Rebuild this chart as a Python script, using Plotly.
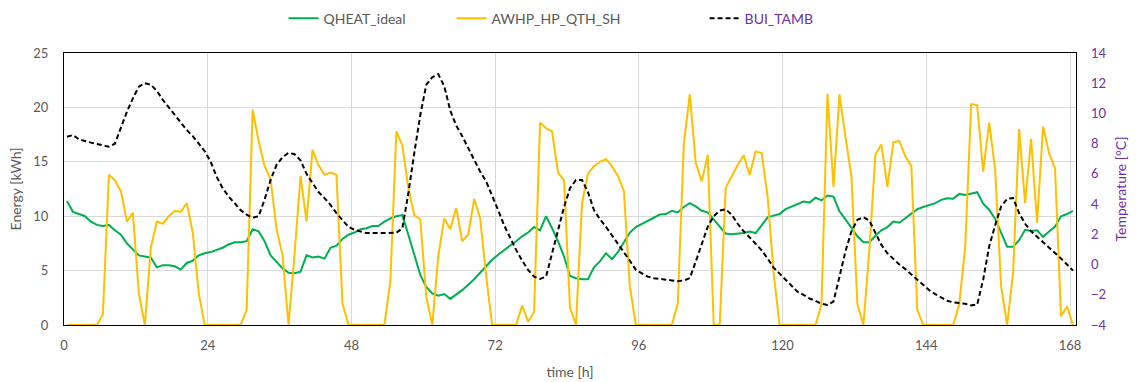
import numpy as np
import plotly.graph_objects as go

# hourly samples, plotted at mid-hour
hours = np.arange(169) + 0.5

qheat_ideal = [
    11.4, 10.4, 10.2, 10.0, 9.5, 9.2, 9.1, 9.2, 8.7, 8.3,
    7.5, 6.9, 6.4, 6.3, 6.2, 5.3, 5.5, 5.5, 5.4, 5.1,
    5.7, 5.9, 6.4, 6.6, 6.7, 6.9, 7.1, 7.4, 7.6, 7.6,
    7.7, 8.8, 8.6, 7.7, 6.4, 5.8, 5.2, 4.8, 4.75, 4.9,
    6.4, 6.2, 6.3, 6.1, 7.1, 7.3, 7.9, 8.3, 8.5, 8.8,
    8.9, 9.1, 9.1, 9.5, 9.8, 10.0, 10.1, 8.3, 6.4, 4.6,
    3.5, 2.9, 2.7, 2.85, 2.4, 2.8, 3.2, 3.7, 4.2, 4.8,
    5.45, 6.0, 6.45, 6.9, 7.3, 7.7, 8.15, 8.5, 9.0, 8.7,
    10.0, 8.9, 7.7, 6.3, 4.5, 4.3, 4.2, 4.2, 5.3, 5.85,
    6.6, 6.05, 6.7, 7.6, 8.5, 9.0, 9.3, 9.6, 9.9, 10.15,
    10.2, 10.5, 10.35, 10.85, 11.2, 10.9, 10.5, 10.35, 9.7, 9.0,
    8.4, 8.35, 8.4, 8.45, 8.6, 8.45, 9.15, 9.9, 10.05, 10.2,
    10.65, 10.9, 11.1, 11.35, 11.25, 11.7, 11.45, 11.9, 11.8, 10.45,
    9.7, 8.9, 8.15, 7.6, 7.6, 8.2, 8.7, 9.0, 9.5, 9.4,
    9.8, 10.2, 10.65, 10.85, 11.0, 11.2, 11.5, 11.65, 11.6, 12.05,
    11.95, 12.05, 12.2, 11.15, 10.6, 9.75, 8.45, 7.2, 7.2, 7.8,
    8.75, 8.65, 8.7, 8.1, 8.6, 9.05, 10.0, 10.2, 10.5,
]

awhp_hp_qth_sh = [
    0, 0, 0, 0, 0, 0, 1.0, 13.8, 13.3, 12.3,
    9.5, 10.3, 2.9, 0, 7.1, 9.5, 9.3, 10.0, 10.5, 10.4,
    11.2, 8.5, 2.9, 0, 0, 0, 0, 0, 0, 0,
    1.4, 19.8, 16.9, 14.6, 13.4, 8.8, 6.4, 0, 6.5, 13.7,
    9.5, 16.1, 14.7, 13.8, 14.0, 13.8, 2.0, 0, 0, 0,
    0, 0, 0, 0, 4.0, 17.8, 16.5, 12.6, 10.1, 9.7,
    2.6, 0, 6.3, 9.8, 8.8, 10.75, 7.7, 8.3, 11.6, 9.8,
    4.5, 0, 0, 0, 0, 0, 1.8, 0.3, 1.2, 18.6,
    18.1, 17.8, 14.0, 13.3, 1.6, 0, 11.2, 13.9, 14.6, 15.0,
    15.25, 14.6, 13.7, 12.3, 3.5, 0, 0, 0, 0, 0,
    0, 0, 2.0, 16.6, 21.2, 14.9, 13.2, 15.65, 0, 0,
    12.6, 13.65, 14.7, 15.6, 13.8, 15.95, 15.8, 11.8, 4.8, 0,
    0, 0, 0, 0, 0, 0, 1.9, 21.25, 12.7, 21.2,
    17.3, 13.65, 1.9, 0, 7.0, 15.65, 16.6, 12.7, 16.8, 16.9,
    15.5, 14.6, 1.4, 0, 0, 0, 0, 0, 0, 1.9,
    7.2, 20.3, 20.2, 14.1, 18.6, 14.3, 3.5, 0, 4.8, 18.0,
    11.2, 17.1, 9.4, 18.25, 15.8, 14.4, 0.8, 1.7, 0,
]

bui_tamb = [
    8.46, 8.57, 8.29, 8.16, 8.07, 7.98, 7.89, 7.8, 8.0, 9.1,
    10.1, 11.0, 11.77, 12.0, 11.9, 11.5, 10.9, 10.4, 9.9, 9.4,
    8.9, 8.5, 8.0, 7.5, 6.8, 5.8, 5.05, 4.5, 4.06, 3.6,
    3.3, 3.1, 3.2, 4.3, 5.6, 6.6, 7.1, 7.4, 7.3, 6.9,
    6.0, 5.4, 4.8, 4.4, 3.95, 3.4, 2.95, 2.5, 2.3, 2.2,
    2.08, 2.08, 2.08, 2.08, 2.08, 2.1, 2.4, 4.7, 7.4, 9.9,
    11.9, 12.4, 12.6, 11.8, 10.2, 9.2, 8.5, 7.7, 6.9, 6.15,
    5.5, 4.6, 3.6, 2.6, 1.75, 0.97, 0.27, -0.35, -0.8, -0.95,
    -0.8, 0.75, 2.4, 3.8, 5.05, 5.6, 5.6, 4.8, 3.6, 3.0,
    2.5, 1.95, 1.4, 0.87, 0.25, -0.35, -0.6, -0.8, -0.9, -0.97,
    -1.0, -1.05, -1.1, -1.05, -0.9, 0.2, 1.4, 2.5, 3.2, 3.57,
    3.66, 3.3, 2.7, 2.2, 1.8, 1.4, 0.95, 0.4, -0.2, -0.6,
    -1.0, -1.4, -1.8, -2.0, -2.25, -2.4, -2.6, -2.67, -2.45, -0.8,
    0.87, 2.2, 2.96, 3.13, 2.9, 2.1, 1.3, 0.75, 0.35, 0.0,
    -0.3, -0.65, -0.97, -1.3, -1.7, -1.95, -2.2, -2.4, -2.5, -2.55,
    -2.6, -2.7, -2.65, -1.0, 1.2, 2.6, 3.85, 4.35, 4.4, 3.4,
    2.7, 2.2, 1.85, 1.45, 1.1, 0.75, 0.4, 0.0, -0.4,
]

x_ticks = [0, 24, 48, 72, 96, 120, 144, 168]
energy_ticks = [0, 5, 10, 15, 20, 25]
temp_ticks = [-4, -2, 0, 2, 4, 6, 8, 10, 12, 14]

FONT = "Lato, Carlito, Calibri, sans-serif"
GREY = "#595959"
PURPLE = "#7030A0"
GRID = "#d9d9d9"

fig = go.Figure()

fig.add_trace(go.Scatter(
    x=hours, y=qheat_ideal, name="QHEAT_ideal", mode="lines",
    line=dict(color="#00B050", width=2), legend="legend",
))
fig.add_trace(go.Scatter(
    x=hours, y=awhp_hp_qth_sh, name="AWHP_HP_QTH_SH", mode="lines",
    line=dict(color="#FFC000", width=2), legend="legend2",
))
fig.add_trace(go.Scatter(
    x=hours, y=bui_tamb, name="BUI_TAMB", mode="lines", yaxis="y2",
    line=dict(color="#000000", width=2, dash="5px,3px"), legend="legend3",
))

def legend_at(x, color):
    return dict(
        x=x, y=1.126, xanchor="left", yanchor="middle",
        orientation="h", bgcolor="rgba(0,0,0,0)",
        font=dict(family=FONT, size=14, color=color),
    )

fig.update_layout(
    width=1137, height=382,
    margin=dict(l=63.5, r=61.3, t=53.3, b=56.7, autoexpand=False),
    paper_bgcolor="white", plot_bgcolor="white",
    font=dict(family=FONT, size=13, color=GREY),
    showlegend=True,
    legend=legend_at(0.217, GREY),
    legend2=legend_at(0.383, GREY),
    legend3=legend_at(0.633, PURPLE),
    xaxis=dict(
        range=[0, 169], tickvals=x_ticks, ticktext=[str(v) for v in x_ticks],
        showgrid=True, gridcolor=GRID, gridwidth=1, zeroline=False,
        showline=True, linecolor="#000000", linewidth=1, mirror=True,
        ticks="", ticklabelstandoff=8,
        tickfont=dict(family=FONT, size=13, color=GREY),
        title=dict(text="time [h]", font=dict(family=FONT, size=14, color=GREY), standoff=15),
        automargin=False,
    ),
    yaxis=dict(
        range=[0, 25], tickvals=energy_ticks,
        showgrid=True, gridcolor=GRID, gridwidth=1, zeroline=False,
        showline=True, linecolor="#000000", linewidth=1, mirror=True,
        ticks="", ticklabelstandoff=12,
        tickfont=dict(family=FONT, size=13, color=GREY),
        title=dict(text="Energy [kWh]", font=dict(family=FONT, size=14, color=GREY), standoff=8),
        automargin=False,
    ),
    yaxis2=dict(
        range=[-4, 14], tickvals=temp_ticks, overlaying="y", side="right",
        showgrid=False, zeroline=False, showline=False,
        ticks="", ticklabelstandoff=14,
        tickfont=dict(family=FONT, size=13, color=PURPLE),
        title=dict(text="Temperature [°C]", font=dict(family=FONT, size=14, color=PURPLE), standoff=10),
        automargin=False,
    ),
)

fig.write_html("out.html")
